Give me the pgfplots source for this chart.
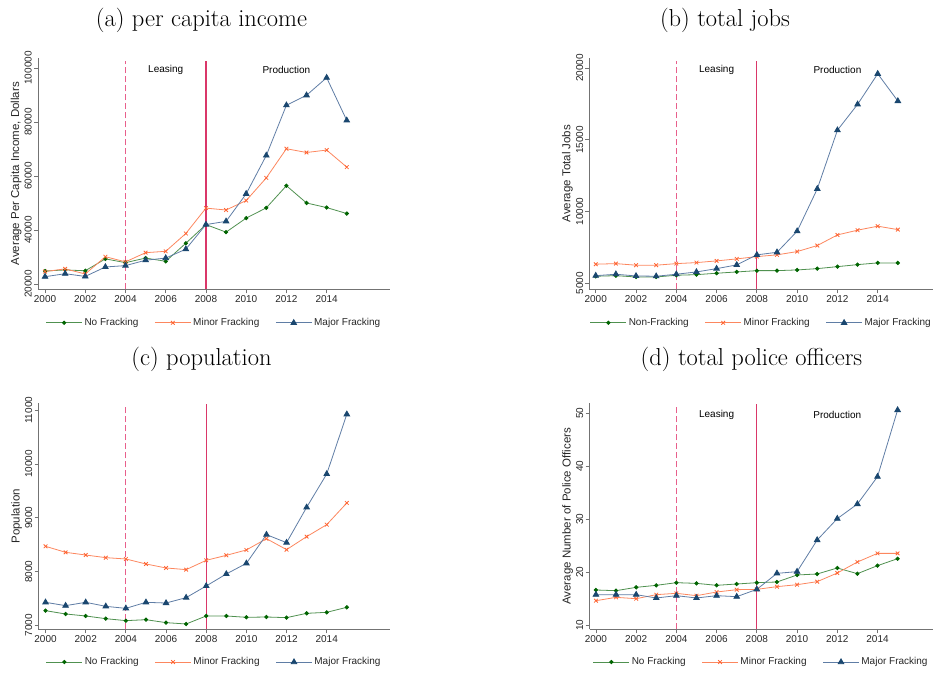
\documentclass[border=0pt]{standalone}
\usepackage{pgfplots}
\pgfplotsset{compat=1.18}
\usepackage{pgfplotstable}
\usepackage{fontspec}
\newfontfamily\arial{Liberation Sans}
\definecolor{cgreen}{RGB}{0,100,0}
\definecolor{cgreenl}{RGB}{80,145,80}
\definecolor{corange}{RGB}{255,100,50}
\definecolor{corangel}{RGB}{252,135,95}
\definecolor{cblue}{RGB}{26,71,111}
\definecolor{cbluel}{RGB}{95,125,165}
\definecolor{cdash}{RGB}{232,95,140}
\definecolor{csolid}{RGB}{218,55,105}

\pgfplotstableread{
year no minor major
2000 24800 24600 22700
2001 25200 25600 23800
2002 24900 23700 22800
2003 29300 30100 26300
2004 27900 28200 26800
2005 29600 31600 28800
2006 28400 32100 29600
2007 35100 38700 32900
2008 42000 48100 42000
2009 39200 47400 43200
2010 44400 50900 53400
2011 48200 59300 67600
2012 56400 70100 86200
2013 50000 68700 89900
2014 48300 69600 96400
2015 46100 63300 80600
}\tinc

\pgfplotstableread{
year no minor major
2000 5490 6330 5530
2001 5530 6370 5630
2002 5440 6260 5510
2003 5440 6260 5490
2004 5560 6370 5630
2005 5600 6440 5790
2006 5700 6560 6020
2007 5790 6700 6280
2008 5880 6860 6980
2009 5880 6980 7160
2010 5930 7210 8630
2011 6020 7630 11580
2012 6160 8370 15670
2013 6300 8700 17470
2014 6420 8980 19600
2015 6420 8740 17700
}\tjobs

\pgfplotstableread{
year no minor major
2000 7273 8470 7428
2001 7211 8358 7366
2002 7174 8308 7428
2003 7124 8259 7353
2004 7087 8234 7316
2005 7105 8141 7428
2006 7050 8067 7415
2007 7025 8036 7515
2008 7174 8209 7732
2009 7174 8302 7955
2010 7149 8402 8153
2011 7155 8612 8687
2012 7143 8408 8538
2013 7223 8650 9195
2014 7242 8873 9816
2015 7335 9276 10926
}\tpop

\pgfplotstableread{
year no minor major
2000 16.67 14.65 15.79
2001 16.54 15.28 15.79
2002 17.17 15.03 15.79
2003 17.55 15.79 15.16
2004 18.05 16.04 15.60
2005 17.92 15.60 15.16
2006 17.55 16.29 15.60
2007 17.80 16.73 15.41
2008 18.05 16.79 16.79
2009 18.18 17.30 19.81
2010 19.50 17.67 20.13
2011 19.69 18.24 26.10
2012 20.82 19.87 30.13
2013 19.75 21.95 32.89
2014 21.26 23.58 38.05
2015 22.58 23.58 50.63
}\tpol

\pgfplotsset{
  fr/.style={
    scale only axis, anchor=south west,
    axis x line*=bottom, axis y line*=left,
    tick align=outside, major tick length=4pt,
    axis line style={draw=black!55, line width=0.8pt},
    tick style={draw=black!55, line width=0.8pt},
    font=\arial\fontsize{10}{12}\selectfont,
    /pgf/number format/assume math mode=true,
    /pgf/number format/fixed,
    /pgf/number format/precision=0,
    /pgf/number format/1000 sep={},
    scaled y ticks=false,
    scaled x ticks=false,
    xtick={2000,2002,...,2014},
    yticklabel style={rotate=90, anchor=south, inner sep=2pt, text=black!85},
    xticklabel style={inner sep=2pt, text=black!85},
    ylabel style={text=black!85, inner sep=1pt, font=\arial\fontsize{11.5}{13}\selectfont},
    clip=false,
    legend columns=3,
    legend style={draw=none, fill=none, at={(0.5,-0.145)}, anchor=center,
      font=\arial\fontsize{10}{12}\selectfont, text=black!85,
      /tikz/every even column/.append style={column sep=14pt}},
    legend image code/.code={\draw[mark repeat=2,mark phase=2] plot coordinates {(0pt,0pt) (18pt,0pt) (36pt,0pt)};},
  },
  sno/.style={color=cgreenl, line width=0.8pt, mark=*, mark size=1.7pt, mark options={draw=cgreen, fill=cgreen, solid}},
  smi/.style={color=corangel, line width=0.8pt, mark=x, mark size=2.6pt, mark options={draw=corange, solid}},
  sma/.style={color=cbluel, line width=0.8pt, mark=triangle*, mark size=3.2pt, mark options={draw=cblue, fill=cblue, solid}},
  vdash/.style={draw=cdash, color=cdash, line width=1.1pt, dash pattern=on 6pt off 3pt, forget plot, mark=none},
  vsolid/.style={draw=csolid, color=csolid, line width=1.1pt, forget plot, mark=none},
}

\begin{document}
\begin{tikzpicture}
\useasboundingbox (0,0) rectangle (937pt,-677pt);
\node[anchor=base, font=\fontsize{24.5}{29}\selectfont] at (201.5pt,-26.7pt) {(a) per capita income};
\node[anchor=base, font=\fontsize{24.5}{29}\selectfont] at (725pt,-26.7pt) {(b) total jobs};
\node[anchor=base, font=\fontsize{24.5}{29}\selectfont] at (201.5pt,-365pt) {(c) population};
\node[anchor=base, font=\fontsize{24.5}{29}\selectfont] at (751.5pt,-365pt) {(d) total police officers};

% (a)
\begin{axis}[fr, at={(38pt,-289.3pt)}, width=352pt, height=231.3pt,
  xmin=1999.65, xmax=2017.15, ymin=18030, ymax=103700,
  ytick={20000,40000,60000,80000,100000},
  ylabel={Average Per Capita Income, Dollars}]
\addplot[vdash] coordinates {(2004,18030) (2004,102500)};
\addplot[vsolid] coordinates {(2008,18030) (2008,102500)};
\addplot[sno] table[x=year,y=no]{\tinc};
\addplot[smi] table[x=year,y=minor]{\tinc};
\addplot[sma] table[x=year,y=major]{\tinc};
\node at ({axis cs:2006,0}|-{rel axis cs:0,0.95}) {Leasing};
\node at ({axis cs:2012,0}|-{rel axis cs:0,0.95}) {Production};
\legend{No Fracking, Minor Fracking, Major Fracking}
\end{axis}

% (b)
\begin{axis}[fr, at={(589.3pt,-289.3pt)}, width=344pt, height=231.3pt,
  xmin=1999.68, xmax=2016.76, ymin=4580, ymax=20700,
  ytick={5000,10000,15000,20000},
  ylabel={Average Total Jobs}]
\addplot[vdash] coordinates {(2004,4580) (2004,20480)};
\addplot[vsolid] coordinates {(2008,4580) (2008,20480)};
\addplot[sno] table[x=year,y=no]{\tjobs};
\addplot[smi] table[x=year,y=minor]{\tjobs};
\addplot[sma] table[x=year,y=major]{\tjobs};
\node at ({axis cs:2006,0}|-{rel axis cs:0,0.95}) {Leasing};
\node at ({axis cs:2012,0}|-{rel axis cs:0,0.95}) {Production};
\legend{Non-Fracking, Minor Fracking, Major Fracking}
\end{axis}

% (c)
\begin{axis}[fr, at={(38.5pt,-629.3pt)}, width=351.5pt, height=226pt,
  xmin=1999.65, xmax=2017.15, ymin=6926, ymax=11130,
  ytick={7000,8000,9000,10000,11000},
  ylabel={Population}]
\addplot[vdash] coordinates {(2004,6926) (2004,11110)};
\addplot[vsolid] coordinates {(2008,6926) (2008,11110)};
\addplot[sno] table[x=year,y=no]{\tpop};
\addplot[smi] table[x=year,y=minor]{\tpop};
\addplot[sma] table[x=year,y=major]{\tpop};
\legend{No Fracking, Minor Fracking, Major Fracking}
\end{axis}

% (d)
\begin{axis}[fr, at={(589.5pt,-629.3pt)}, width=343.5pt, height=226pt,
  xmin=1999.68, xmax=2016.76, ymin=9.25, ymax=51.9,
  ytick={10,20,30,40,50},
  ylabel={Average Number of Police Officers}]
\addplot[vdash] coordinates {(2004,9.25) (2004,51.7)};
\addplot[vsolid] coordinates {(2008,9.25) (2008,51.7)};
\addplot[sno] table[x=year,y=no]{\tpol};
\addplot[smi] table[x=year,y=minor]{\tpol};
\addplot[sma] table[x=year,y=major]{\tpol};
\node at ({axis cs:2006,0}|-{rel axis cs:0,0.95}) {Leasing};
\node at ({axis cs:2012,0}|-{rel axis cs:0,0.95}) {Production};
\legend{No Fracking, Minor Fracking, Major Fracking}
\end{axis}
\end{tikzpicture}
\end{document}
